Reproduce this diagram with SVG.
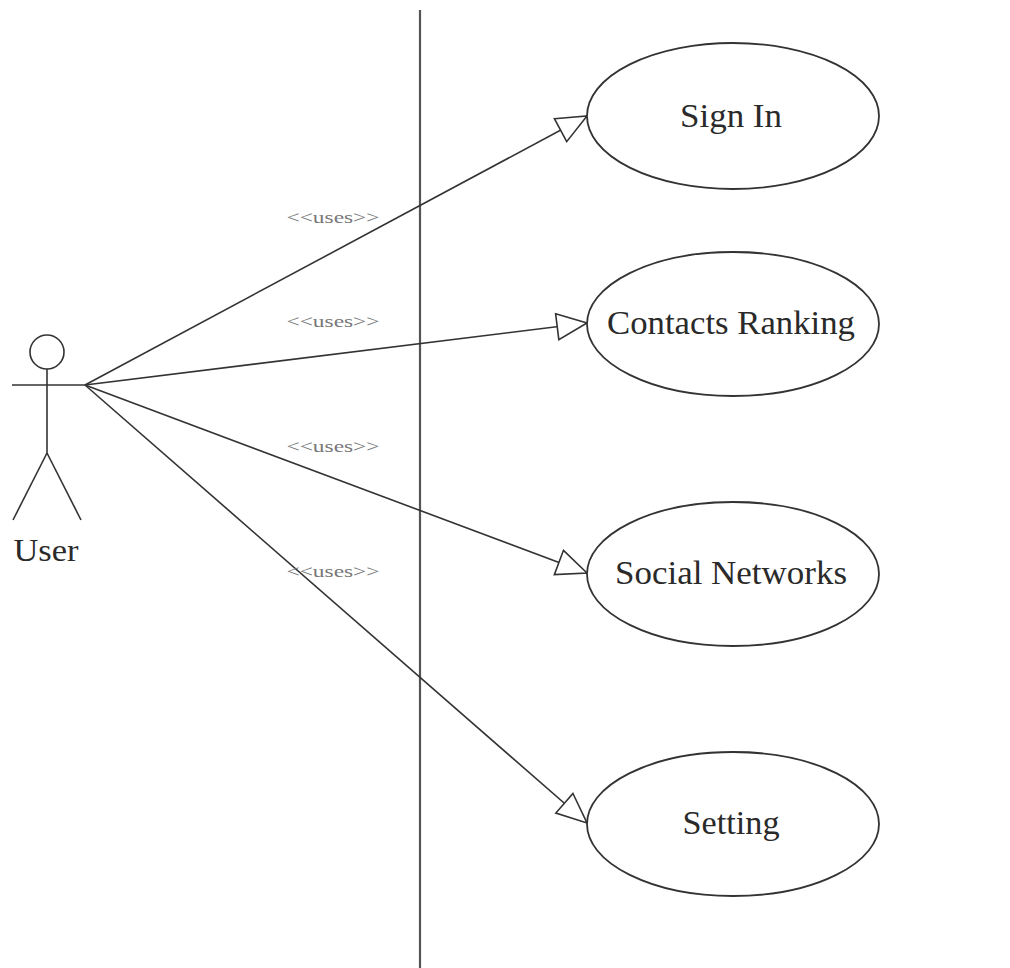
<svg xmlns="http://www.w3.org/2000/svg" width="1010" height="968" viewBox="0 0 1010 968">
<style>
.ln{stroke:#333;stroke-width:1.6;fill:none}
.uc{fill:#fff;stroke:#333;stroke-width:1.8}
.t{font-family:"Liberation Serif","Times New Roman",serif;font-size:34px;fill:#2a2a2a;text-anchor:middle}
.lbl{font-family:"Liberation Serif","Times New Roman",serif;font-size:17px;fill:#777;text-anchor:middle}
</style>
<defs>
<marker id="tri" markerUnits="userSpaceOnUse" markerWidth="34" markerHeight="32" viewBox="-2 -16 34 32" refX="30" refY="0" orient="auto">
<path d="M0,-13 L30,0 L0,13 Z" fill="#fff" stroke="#333" stroke-width="1.6"/>
</marker>
</defs>
<rect width="1010" height="968" fill="#fff"/>
<line x1="420" y1="10" x2="420" y2="968" stroke="#555" stroke-width="2.2"/>
<g id="actor-user">
<circle cx="47" cy="352" r="17" class="ln"/>
<line x1="12" y1="385" x2="85" y2="385" class="ln"/>
<line x1="47" y1="369" x2="47" y2="453" class="ln"/>
<line x1="47" y1="453" x2="13" y2="520" class="ln"/>
<line x1="47" y1="453" x2="81" y2="520" class="ln"/>
<text x="46" y="561" class="t" style="font-size:32px" textLength="65" lengthAdjust="spacingAndGlyphs">User</text>
</g>
<g id="connectors">
<line x1="85" y1="385" x2="587" y2="116" class="ln" marker-end="url(#tri)"/>
<line x1="85" y1="385" x2="587" y2="323" class="ln" marker-end="url(#tri)"/>
<line x1="85" y1="385" x2="587" y2="573" class="ln" marker-end="url(#tri)"/>
<line x1="85" y1="385" x2="587" y2="823" class="ln" marker-end="url(#tri)"/>
<text x="333" y="223" class="lbl" textLength="93" lengthAdjust="spacingAndGlyphs">&lt;&lt;uses&gt;&gt;</text>
<text x="333" y="327" class="lbl" textLength="93" lengthAdjust="spacingAndGlyphs">&lt;&lt;uses&gt;&gt;</text>
<text x="333" y="452" class="lbl" textLength="93" lengthAdjust="spacingAndGlyphs">&lt;&lt;uses&gt;&gt;</text>
<text x="333" y="577" class="lbl" textLength="93" lengthAdjust="spacingAndGlyphs">&lt;&lt;uses&gt;&gt;</text>
</g>
<g id="uc-signin">
<ellipse cx="733" cy="116" rx="146" ry="73" class="uc"/>
<text x="731" y="127" class="t" textLength="102" lengthAdjust="spacingAndGlyphs">Sign In</text>
</g>
<g id="uc-contacts">
<ellipse cx="733" cy="324" rx="146" ry="72" class="uc"/>
<text x="731" y="334" class="t" textLength="248" lengthAdjust="spacingAndGlyphs">Contacts Ranking</text>
</g>
<g id="uc-social">
<ellipse cx="733" cy="574" rx="146" ry="72" class="uc"/>
<text x="731" y="584" class="t" textLength="232" lengthAdjust="spacingAndGlyphs">Social Networks</text>
</g>
<g id="uc-setting">
<ellipse cx="733" cy="824" rx="146" ry="72" class="uc"/>
<text x="731" y="834" class="t" textLength="97" lengthAdjust="spacingAndGlyphs">Setting</text>
</g>
</svg>
